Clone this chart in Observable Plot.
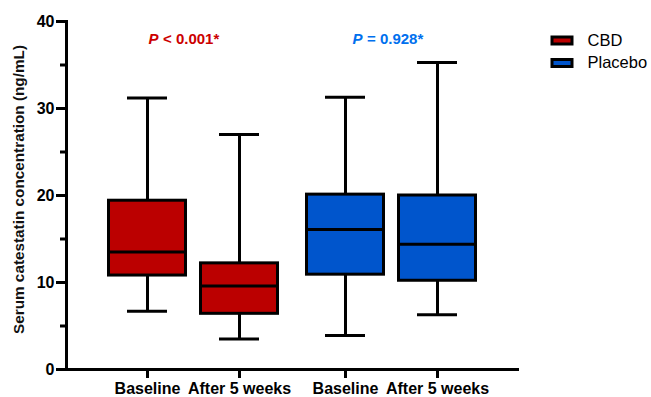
<!DOCTYPE html>
<html><head><meta charset="utf-8">
<script src="https://cdn.jsdelivr.net/npm/d3@7"></script>
<script src="https://cdn.jsdelivr.net/npm/@observablehq/plot@0.6"></script>
<style>
body{margin:0;background:#fff;}
#wrap{position:relative;width:651px;height:397px;}
</style></head><body><div id="wrap"></div>
<script>
const groups = ["CBD", "CBD", "Placebo", "Placebo"];
const timepoints = ["Baseline", "After 5 weeks", "Baseline", "After 5 weeks"];
const whiskerMin = [6.7, 3.5, 3.9, 6.3];
const q1 = [10.8, 6.4, 10.9, 10.2];
const median = [13.5, 9.6, 16.1, 14.4];
const q3 = [19.4, 12.2, 20.1, 20.0];
const whiskerMax = [31.2, 27.0, 31.3, 35.3];
const yTicks = [0, 10, 20, 30, 40];
const yMinorTicks = [5, 15, 25, 35];
const legendLabels = ["CBD", "Placebo"];
const pValues = ["< 0.001*", "= 0.928*"];
const yTitle = "Serum catestatin concentration (ng/mL)";
const fillColors = {CBD: "#BB0000", Placebo: "#0055CC"};
const textColors = {CBD: "#CC0000", Placebo: "#0070EE"};

const rows = groups.map((g, i) => ({
  key: g + "|" + timepoints[i], group: g, time: timepoints[i],
  min: whiskerMin[i], q1: q1[i], median: median[i], q3: q3[i], max: whiskerMax[i]
}));
const keys = rows.map(d => d.key);
const groupShift = {CBD: -7, Placebo: 7};
const pShift = {CBD: -6, Placebo: 14};
const plotW = 651 - 66 - 132;
const plotH = 397 - 21 - 28;

function boxMarks(g) {
  const data = rows.filter(d => d.group === g);
  const dx = groupShift[g];
  return [
    Plot.ruleX(data, {x: "key", y1: "min", y2: "max", stroke: "#000", strokeWidth: 3, dx}),
    Plot.ruleY(data, {x1: "key", x2: "key", y: "min", stroke: "#000", strokeWidth: 3, insetLeft: 20, insetRight: 20, dx}),
    Plot.ruleY(data, {x1: "key", x2: "key", y: "max", stroke: "#000", strokeWidth: 3, insetLeft: 20, insetRight: 20, dx}),
    Plot.barY(data, {x: "key", y1: "q1", y2: "q3", fill: fillColors[g], stroke: "#000", strokeWidth: 3, insetLeft: 1.5, insetRight: 1.5, dx}),
    Plot.ruleY(data, {x1: "key", x2: "key", y: "median", stroke: "#000", strokeWidth: 3, insetLeft: 1.5, insetRight: 1.5, dx}),
    // x tick marks below the axis
    Plot.ruleX(data, {x: "key", stroke: "#000", strokeWidth: 3, insetTop: plotH, insetBottom: -9, dx, clip: false}),
    Plot.axisX(data.map(d => d.key), {anchor: "bottom", tickSize: 0, tickPadding: 13, fill: "#000", fontSize: 16, dx, tickFormat: k => k.split("|")[1], label: null})
  ];
}

function pMarks(g, i) {
  const first = [rows.find(d => d.group === g).key];
  const dx = pShift[g];
  return [
    Plot.text(first, {x: d => d, text: () => "P", frameAnchor: "top", dy: 22, dx, lineAnchor: "bottom", textAnchor: "start", fontSize: 15, fontWeight: "bold", fontStyle: "italic", fill: textColors[g]}),
    Plot.text(first, {x: d => d, text: () => pValues[i], frameAnchor: "top", dy: 22, dx: dx + 14.5, lineAnchor: "bottom", textAnchor: "start", fontSize: 15, fontWeight: "bold", fill: textColors[g]})
  ];
}

const rectSymbol = {draw(ctx) { ctx.rect(-10, -3.5, 20, 7); }};

function legendMarks(g, i) {
  const dy = 19 + i * 22.5;
  return [
    Plot.dot([g], {frameAnchor: "top-right", dx: 42.5, dy, symbol: rectSymbol, fill: fillColors[g], stroke: "#000", strokeWidth: 3}),
    Plot.text([g], {text: d => d, frameAnchor: "top-right", dx: 68, dy, textAnchor: "start", lineAnchor: "middle", fontSize: 16.5, fontWeight: "normal", fill: "#000"})
  ];
}

const chart = Plot.plot({
  width: 651, height: 397,
  marginLeft: 66, marginRight: 132, marginTop: 21, marginBottom: 28,
  style: "font-family:'Liberation Sans',Arial,sans-serif;font-size:16px;font-weight:bold;color:#000;background:#fff;overflow:visible;",
  x: {type: "band", domain: keys, paddingInner: 0.1304, paddingOuter: 0.522, axis: null},
  y: {domain: [0, 40], axis: null},
  marks: [
    // y tick marks drawn as rules reaching left of the frame
    Plot.ruleY(yMinorTicks, {stroke: "#000", strokeWidth: 3, insetLeft: -6, insetRight: plotW, clip: false}),
    Plot.ruleY(yTicks, {stroke: "#000", strokeWidth: 3, insetLeft: -10, insetRight: plotW, clip: false}),
    Plot.axisY(yTicks, {anchor: "left", tickSize: 0, tickPadding: 12, fill: "#000", fontSize: 16, label: null}),
    // axis lines
    Plot.ruleY([0], {stroke: "#000", strokeWidth: 3, insetLeft: -1.5, clip: false}),
    Plot.frame({anchor: "left", stroke: "#000", strokeWidth: 3}),
    ...boxMarks("CBD"),
    ...boxMarks("Placebo"),
    Plot.text([yTitle], {text: d => d, frameAnchor: "left", dx: -47, dy: -6, rotate: -90, textAnchor: "middle", lineAnchor: "middle", fontSize: 15.3, fontWeight: "bold", fill: "#111"}),
    ...legendLabels.flatMap((g, i) => pMarks(g, i)),
    ...legendLabels.flatMap((g, i) => legendMarks(g, i))
  ]
});
document.getElementById("wrap").appendChild(chart);
</script></body></html>
